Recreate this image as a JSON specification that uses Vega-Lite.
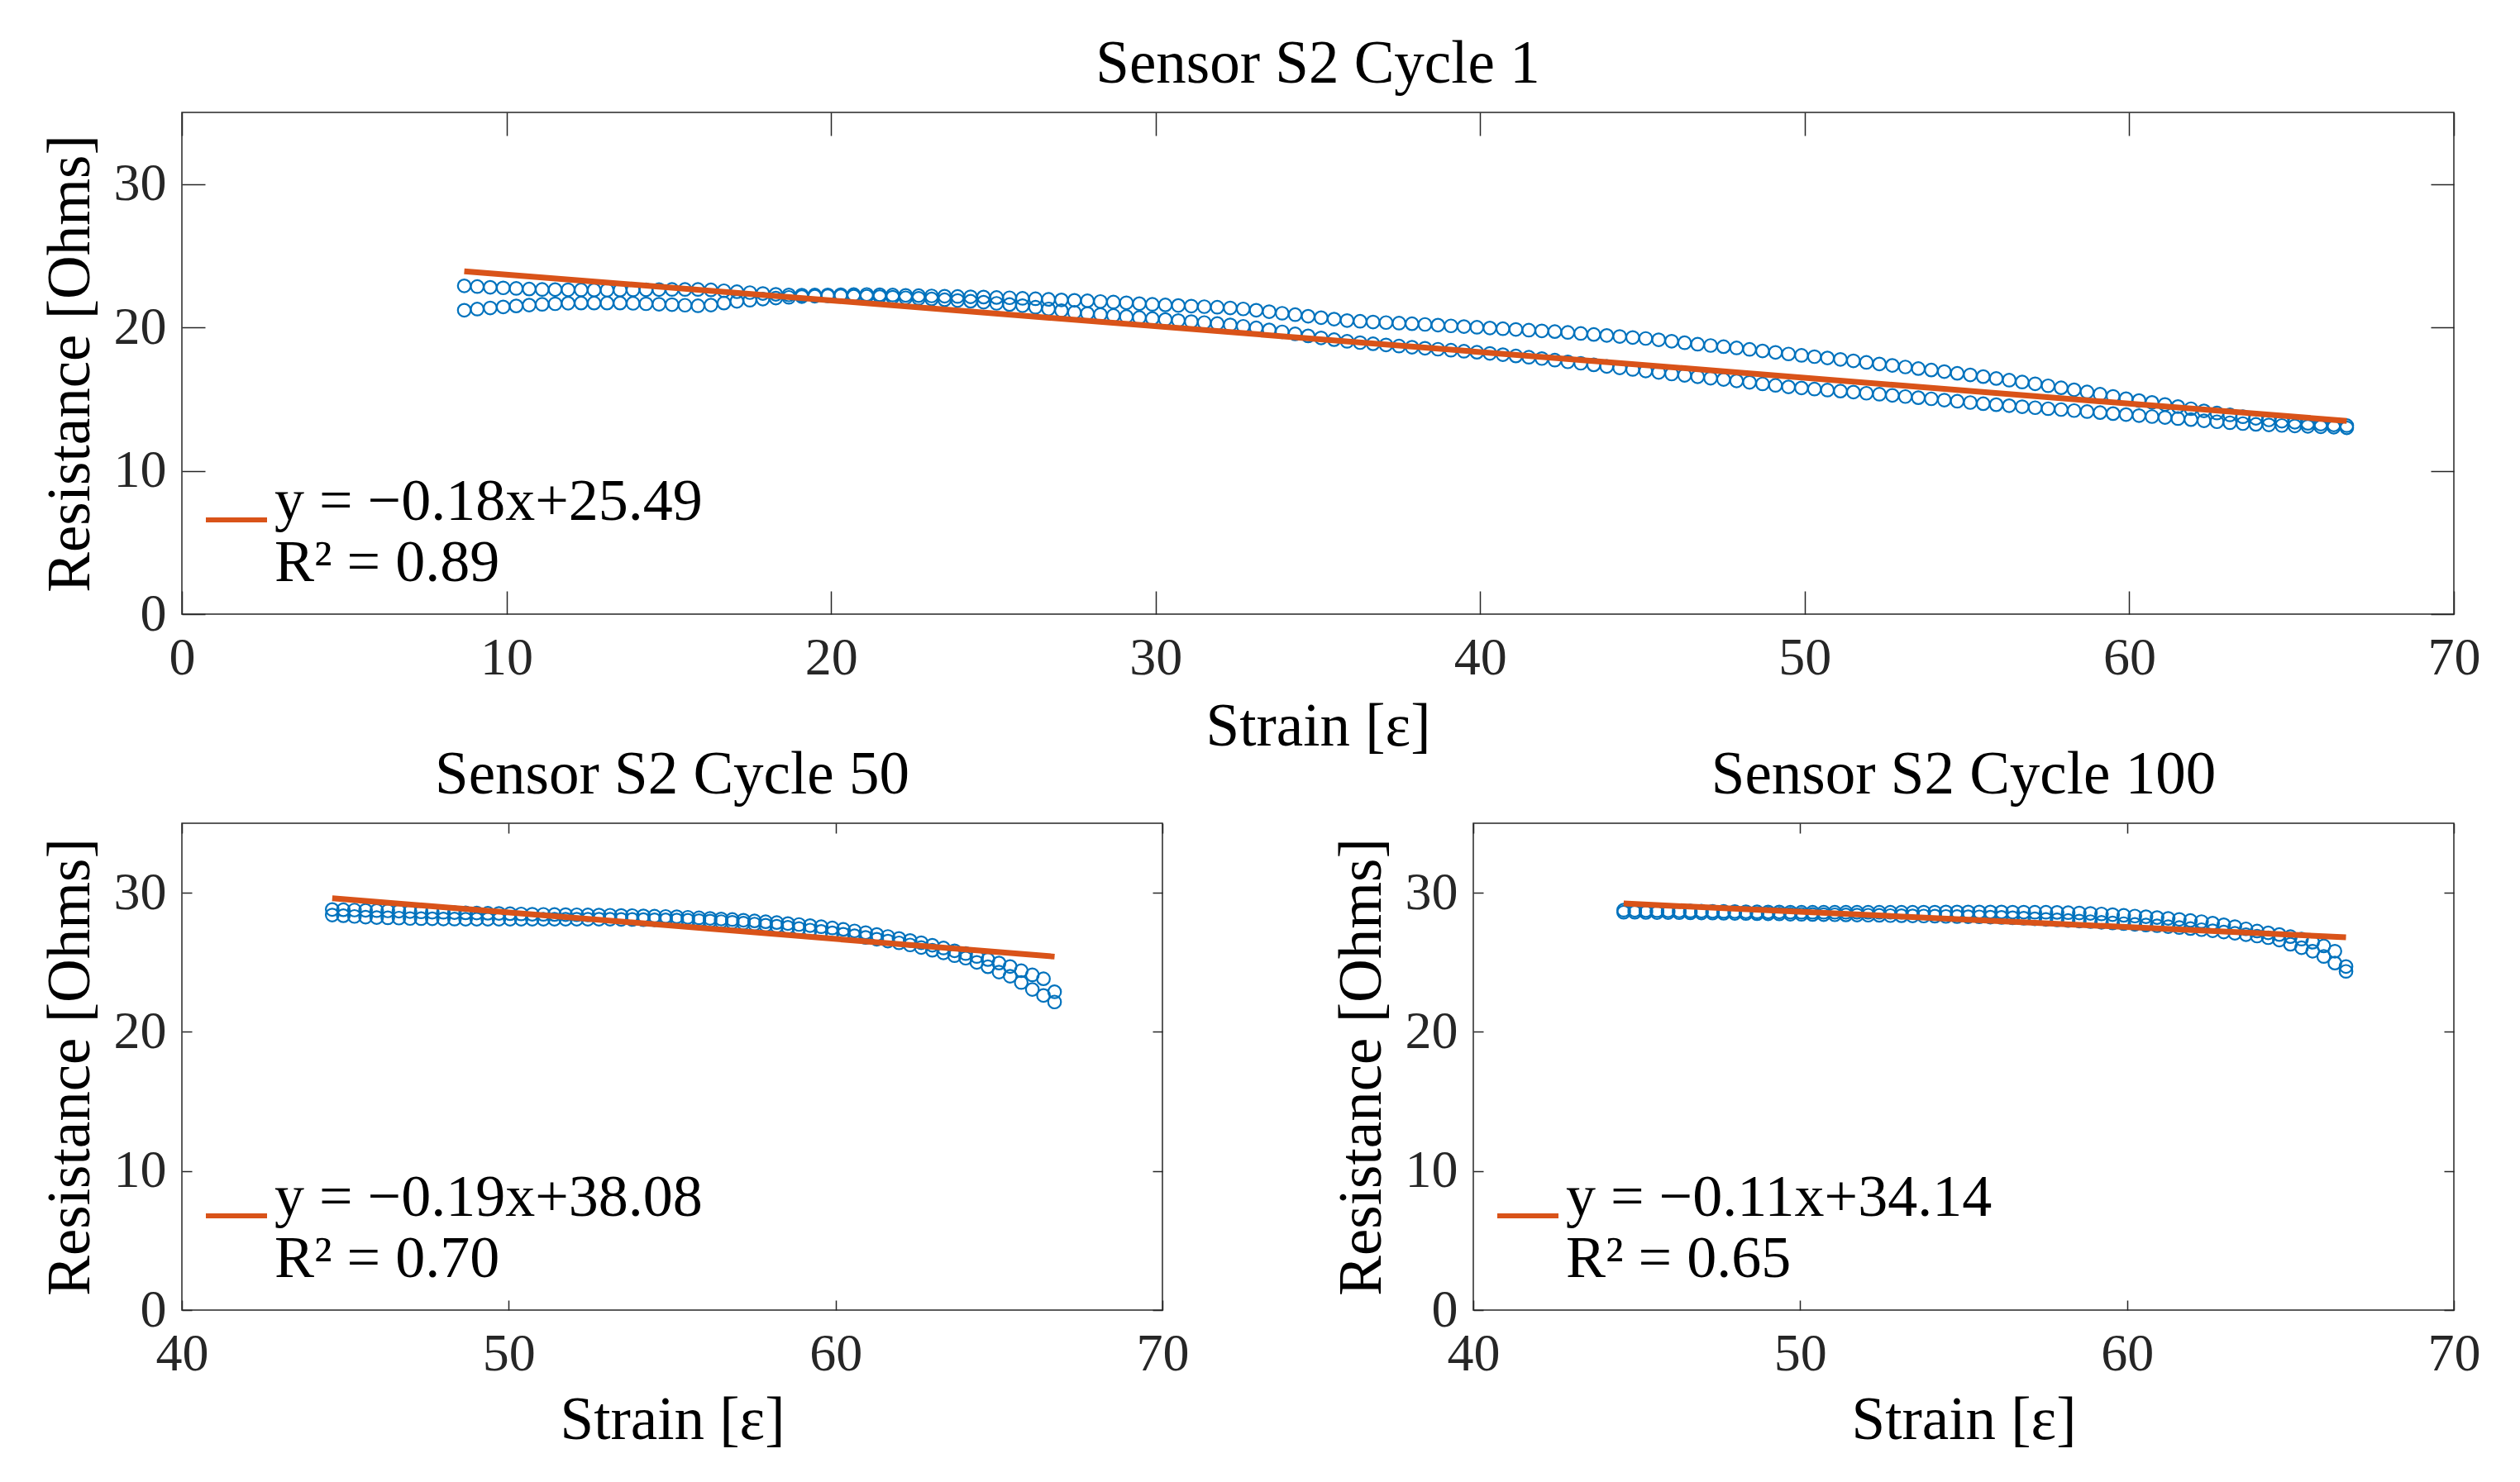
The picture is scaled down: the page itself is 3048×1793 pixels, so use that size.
{
"$schema": "https://vega.github.io/schema/vega-lite/v6.json",
"autosize": {"type": "none"},
"padding": {"left": 220, "top": 136, "right": 2828, "bottom": 1657},
"background": "white",
"config": {
 "font": "Liberation Serif",
 "view": {"stroke": "#262626", "strokeWidth": 1.5},
 "axis": {"grid": false, "domain": false, "tickColor": "#262626", "tickWidth": 1.5, "labelFont": "Liberation Serif", "labelFontSize": 64, "labelColor": "#262626", "titleFont": "Liberation Serif", "titleFontSize": 73, "titleFontWeight": "normal", "titleColor": "black", "labelFlush": false, "labelOverlap": false},
 "axisBottom": {"titleBaseline": "alphabetic", "titlePadding": 73},
 "axisLeft": {"titlePadding": 15},
 "title": {"font": "Liberation Serif", "fontSize": 73, "fontWeight": "normal", "color": "black", "frame": "group", "anchor": "middle", "baseline": "alphabetic", "offset": 20},
 "legend": {"orient": "bottom-left", "offset": 26, "title": null, "symbolType": "stroke", "symbolSize": 5476, "symbolStrokeWidth": 6, "labelFont": "Liberation Serif", "labelFontSize": 72, "labelColor": "black", "labelBaseline": "alphabetic", "labelLimit": 0, "labelOffset": 6, "padding": 0}
},
"datasets": {
 "c1": [
{"x":8.7,"y":22.9},{"x":9.1,"y":22.85},{"x":9.5,"y":22.8},{"x":9.9,"y":22.76},{"x":10.3,"y":22.72},{"x":10.7,"y":22.68},{"x":11.1,"y":22.65},{"x":11.5,"y":22.64},{"x":11.9,"y":22.63},{"x":12.3,"y":22.62},
{"x":12.7,"y":22.61},{"x":13.1,"y":22.6},{"x":13.5,"y":22.61},{"x":13.9,"y":22.62},{"x":14.3,"y":22.63},{"x":14.7,"y":22.64},{"x":15.1,"y":22.65},{"x":15.5,"y":22.65},{"x":15.9,"y":22.65},{"x":16.3,"y":22.62},
{"x":16.7,"y":22.56},{"x":17.1,"y":22.49},{"x":17.5,"y":22.43},{"x":17.9,"y":22.37},{"x":18.3,"y":22.31},{"x":18.7,"y":22.27},{"x":19.1,"y":22.25},{"x":19.5,"y":22.26},{"x":19.9,"y":22.27},{"x":20.3,"y":22.28},
{"x":20.7,"y":22.29},{"x":21.1,"y":22.3},{"x":21.5,"y":22.28},{"x":21.9,"y":22.26},{"x":22.3,"y":22.24},{"x":22.7,"y":22.22},{"x":23.1,"y":22.2},{"x":23.5,"y":22.18},{"x":23.9,"y":22.16},{"x":24.3,"y":22.14},
{"x":24.7,"y":22.12},{"x":25.1,"y":22.09},{"x":25.5,"y":22.07},{"x":25.9,"y":22.03},{"x":26.3,"y":22.0},{"x":26.7,"y":21.96},{"x":27.1,"y":21.92},{"x":27.5,"y":21.89},{"x":27.9,"y":21.86},{"x":28.3,"y":21.81},
{"x":28.7,"y":21.77},{"x":29.1,"y":21.72},{"x":29.5,"y":21.66},{"x":29.9,"y":21.61},{"x":30.3,"y":21.57},{"x":30.7,"y":21.53},{"x":31.1,"y":21.49},{"x":31.5,"y":21.45},{"x":31.9,"y":21.41},{"x":32.3,"y":21.36},
{"x":32.7,"y":21.29},{"x":33.1,"y":21.2},{"x":33.5,"y":21.1},{"x":33.9,"y":20.99},{"x":34.3,"y":20.89},{"x":34.7,"y":20.78},{"x":35.1,"y":20.68},{"x":35.5,"y":20.58},{"x":35.9,"y":20.48},{"x":36.3,"y":20.43},
{"x":36.7,"y":20.38},{"x":37.1,"y":20.34},{"x":37.5,"y":20.3},{"x":37.9,"y":20.26},{"x":38.3,"y":20.21},{"x":38.7,"y":20.16},{"x":39.1,"y":20.11},{"x":39.5,"y":20.06},{"x":39.9,"y":20.01},{"x":40.3,"y":19.96},
{"x":40.7,"y":19.91},{"x":41.1,"y":19.86},{"x":41.5,"y":19.81},{"x":41.9,"y":19.76},{"x":42.3,"y":19.71},{"x":42.7,"y":19.65},{"x":43.1,"y":19.58},{"x":43.5,"y":19.51},{"x":43.9,"y":19.44},{"x":44.3,"y":19.37},
{"x":44.7,"y":19.3},{"x":45.1,"y":19.23},{"x":45.5,"y":19.14},{"x":45.9,"y":19.04},{"x":46.3,"y":18.93},{"x":46.7,"y":18.83},{"x":47.1,"y":18.74},{"x":47.5,"y":18.66},{"x":47.9,"y":18.57},{"x":48.3,"y":18.47},
{"x":48.7,"y":18.36},{"x":49.1,"y":18.26},{"x":49.5,"y":18.15},{"x":49.9,"y":18.05},{"x":50.3,"y":17.96},{"x":50.7,"y":17.87},{"x":51.1,"y":17.77},{"x":51.5,"y":17.67},{"x":51.9,"y":17.56},{"x":52.3,"y":17.45},
{"x":52.7,"y":17.35},{"x":53.1,"y":17.24},{"x":53.5,"y":17.13},{"x":53.9,"y":17.03},{"x":54.3,"y":16.92},{"x":54.7,"y":16.8},{"x":55.1,"y":16.69},{"x":55.5,"y":16.57},{"x":55.9,"y":16.44},{"x":56.3,"y":16.32},
{"x":56.7,"y":16.19},{"x":57.1,"y":16.07},{"x":57.5,"y":15.93},{"x":57.9,"y":15.79},{"x":58.3,"y":15.65},{"x":58.7,"y":15.5},{"x":59.1,"y":15.34},{"x":59.5,"y":15.19},{"x":59.9,"y":15.03},{"x":60.3,"y":14.9},
{"x":60.7,"y":14.77},{"x":61.1,"y":14.63},{"x":61.5,"y":14.48},{"x":61.9,"y":14.33},{"x":62.3,"y":14.18},{"x":62.7,"y":14.03},{"x":63.1,"y":13.9},{"x":63.5,"y":13.77},{"x":63.9,"y":13.66},{"x":64.3,"y":13.55},
{"x":64.7,"y":13.46},{"x":65.1,"y":13.39},{"x":65.5,"y":13.31},{"x":65.9,"y":13.26},{"x":66.3,"y":13.2},{"x":66.7,"y":13.15},
{"x":8.7,"y":21.2},{"x":9.1,"y":21.28},{"x":9.5,"y":21.36},{"x":9.9,"y":21.43},{"x":10.3,"y":21.5},{"x":10.7,"y":21.56},{"x":11.1,"y":21.61},{"x":11.5,"y":21.65},{"x":11.9,"y":21.69},{"x":12.3,"y":21.7},
{"x":12.7,"y":21.7},{"x":13.1,"y":21.7},{"x":13.5,"y":21.7},{"x":13.9,"y":21.68},{"x":14.3,"y":21.65},{"x":14.7,"y":21.62},{"x":15.1,"y":21.59},{"x":15.5,"y":21.55},{"x":15.9,"y":21.51},{"x":16.3,"y":21.56},
{"x":16.7,"y":21.7},{"x":17.1,"y":21.82},{"x":17.5,"y":21.9},{"x":17.9,"y":21.98},{"x":18.3,"y":22.05},{"x":18.7,"y":22.1},{"x":19.1,"y":22.15},{"x":19.5,"y":22.18},{"x":19.9,"y":22.2},{"x":20.3,"y":22.2},
{"x":20.7,"y":22.18},{"x":21.1,"y":22.17},{"x":21.5,"y":22.15},{"x":21.9,"y":22.11},{"x":22.3,"y":22.07},{"x":22.7,"y":22.03},{"x":23.1,"y":21.99},{"x":23.5,"y":21.93},{"x":23.9,"y":21.88},{"x":24.3,"y":21.83},
{"x":24.7,"y":21.76},{"x":25.1,"y":21.68},{"x":25.5,"y":21.6},{"x":25.9,"y":21.52},{"x":26.3,"y":21.41},{"x":26.7,"y":21.29},{"x":27.1,"y":21.17},{"x":27.5,"y":21.05},{"x":27.9,"y":20.97},{"x":28.3,"y":20.9},
{"x":28.7,"y":20.83},{"x":29.1,"y":20.76},{"x":29.5,"y":20.69},{"x":29.9,"y":20.62},{"x":30.3,"y":20.55},{"x":30.7,"y":20.48},{"x":31.1,"y":20.41},{"x":31.5,"y":20.34},{"x":31.9,"y":20.27},{"x":32.3,"y":20.18},
{"x":32.7,"y":20.08},{"x":33.1,"y":19.97},{"x":33.5,"y":19.83},{"x":33.9,"y":19.69},{"x":34.3,"y":19.55},{"x":34.7,"y":19.41},{"x":35.1,"y":19.27},{"x":35.5,"y":19.15},{"x":35.9,"y":19.03},{"x":36.3,"y":18.94},
{"x":36.7,"y":18.86},{"x":37.1,"y":18.78},{"x":37.5,"y":18.7},{"x":37.9,"y":18.62},{"x":38.3,"y":18.55},{"x":38.7,"y":18.48},{"x":39.1,"y":18.41},{"x":39.5,"y":18.34},{"x":39.9,"y":18.27},{"x":40.3,"y":18.19},
{"x":40.7,"y":18.1},{"x":41.1,"y":18.01},{"x":41.5,"y":17.92},{"x":41.9,"y":17.83},{"x":42.3,"y":17.72},{"x":42.7,"y":17.6},{"x":43.1,"y":17.5},{"x":43.5,"y":17.39},{"x":43.9,"y":17.28},{"x":44.3,"y":17.18},
{"x":44.7,"y":17.07},{"x":45.1,"y":16.96},{"x":45.5,"y":16.86},{"x":45.9,"y":16.75},{"x":46.3,"y":16.66},{"x":46.7,"y":16.56},{"x":47.1,"y":16.46},{"x":47.5,"y":16.37},{"x":47.9,"y":16.27},{"x":48.3,"y":16.17},
{"x":48.7,"y":16.06},{"x":49.1,"y":15.96},{"x":49.5,"y":15.85},{"x":49.9,"y":15.78},{"x":50.3,"y":15.7},{"x":50.7,"y":15.63},{"x":51.1,"y":15.56},{"x":51.5,"y":15.49},{"x":51.9,"y":15.41},{"x":52.3,"y":15.34},
{"x":52.7,"y":15.26},{"x":53.1,"y":15.18},{"x":53.5,"y":15.1},{"x":53.9,"y":15.02},{"x":54.3,"y":14.93},{"x":54.7,"y":14.85},{"x":55.1,"y":14.76},{"x":55.5,"y":14.68},{"x":55.9,"y":14.61},{"x":56.3,"y":14.54},
{"x":56.7,"y":14.47},{"x":57.1,"y":14.4},{"x":57.5,"y":14.33},{"x":57.9,"y":14.27},{"x":58.3,"y":14.2},{"x":58.7,"y":14.13},{"x":59.1,"y":14.06},{"x":59.5,"y":13.99},{"x":59.9,"y":13.92},{"x":60.3,"y":13.85},
{"x":60.7,"y":13.78},{"x":61.1,"y":13.72},{"x":61.5,"y":13.64},{"x":61.9,"y":13.57},{"x":62.3,"y":13.49},{"x":62.7,"y":13.42},{"x":63.1,"y":13.35},{"x":63.5,"y":13.29},{"x":63.9,"y":13.24},{"x":64.3,"y":13.2},
{"x":64.7,"y":13.16},{"x":65.1,"y":13.13},{"x":65.5,"y":13.1},{"x":65.9,"y":13.07},{"x":66.3,"y":13.04},{"x":66.7,"y":13.0}
 ],
 "c50": [
{"x":44.6,"y":28.8},{"x":44.94,"y":28.78},{"x":45.28,"y":28.76},{"x":45.62,"y":28.74},{"x":45.96,"y":28.72},{"x":46.3,"y":28.7},{"x":46.64,"y":28.68},{"x":46.98,"y":28.65},{"x":47.32,"y":28.63},{"x":47.66,"y":28.61},
{"x":48.0,"y":28.6},{"x":48.34,"y":28.58},{"x":48.68,"y":28.56},{"x":49.02,"y":28.55},{"x":49.36,"y":28.53},{"x":49.7,"y":28.52},{"x":50.04,"y":28.5},{"x":50.38,"y":28.48},{"x":50.72,"y":28.46},{"x":51.06,"y":28.45},
{"x":51.4,"y":28.44},{"x":51.74,"y":28.43},{"x":52.08,"y":28.42},{"x":52.42,"y":28.41},{"x":52.76,"y":28.4},{"x":53.1,"y":28.39},{"x":53.44,"y":28.37},{"x":53.78,"y":28.36},{"x":54.12,"y":28.34},{"x":54.46,"y":28.32},
{"x":54.8,"y":28.3},{"x":55.14,"y":28.28},{"x":55.48,"y":28.24},{"x":55.82,"y":28.2},{"x":56.16,"y":28.16},{"x":56.5,"y":28.12},{"x":56.84,"y":28.08},{"x":57.18,"y":28.03},{"x":57.52,"y":27.98},{"x":57.86,"y":27.92},
{"x":58.2,"y":27.86},{"x":58.54,"y":27.79},{"x":58.88,"y":27.72},{"x":59.22,"y":27.64},{"x":59.56,"y":27.56},{"x":59.9,"y":27.47},{"x":60.24,"y":27.37},{"x":60.58,"y":27.26},{"x":60.92,"y":27.14},{"x":61.26,"y":27.0},
{"x":61.6,"y":26.86},{"x":61.94,"y":26.72},{"x":62.28,"y":26.57},{"x":62.62,"y":26.41},{"x":62.96,"y":26.23},{"x":63.3,"y":26.03},{"x":63.64,"y":25.83},{"x":63.98,"y":25.63},{"x":64.32,"y":25.42},{"x":64.66,"y":25.2},
{"x":65.0,"y":24.95},{"x":65.34,"y":24.7},{"x":65.68,"y":24.4},{"x":66.02,"y":24.1},{"x":66.36,"y":23.82},{"x":66.7,"y":22.88},
{"x":44.6,"y":28.4},{"x":44.94,"y":28.35},{"x":45.28,"y":28.3},{"x":45.62,"y":28.25},{"x":45.96,"y":28.22},{"x":46.3,"y":28.2},{"x":46.64,"y":28.18},{"x":46.98,"y":28.15},{"x":47.32,"y":28.14},{"x":47.66,"y":28.13},
{"x":48.0,"y":28.12},{"x":48.34,"y":28.11},{"x":48.68,"y":28.1},{"x":49.02,"y":28.1},{"x":49.36,"y":28.1},{"x":49.7,"y":28.1},{"x":50.04,"y":28.1},{"x":50.38,"y":28.1},{"x":50.72,"y":28.1},{"x":51.06,"y":28.1},
{"x":51.4,"y":28.1},{"x":51.74,"y":28.1},{"x":52.08,"y":28.1},{"x":52.42,"y":28.1},{"x":52.76,"y":28.1},{"x":53.1,"y":28.1},{"x":53.44,"y":28.09},{"x":53.78,"y":28.08},{"x":54.12,"y":28.07},{"x":54.46,"y":28.06},
{"x":54.8,"y":28.05},{"x":55.14,"y":28.04},{"x":55.48,"y":28.02},{"x":55.82,"y":28.0},{"x":56.16,"y":27.97},{"x":56.5,"y":27.93},{"x":56.84,"y":27.88},{"x":57.18,"y":27.82},{"x":57.52,"y":27.75},{"x":57.86,"y":27.67},
{"x":58.2,"y":27.6},{"x":58.54,"y":27.52},{"x":58.88,"y":27.43},{"x":59.22,"y":27.32},{"x":59.56,"y":27.22},{"x":59.9,"y":27.12},{"x":60.24,"y":27.02},{"x":60.58,"y":26.91},{"x":60.92,"y":26.79},{"x":61.26,"y":26.66},
{"x":61.6,"y":26.53},{"x":61.94,"y":26.4},{"x":62.28,"y":26.25},{"x":62.62,"y":26.07},{"x":62.96,"y":25.87},{"x":63.3,"y":25.68},{"x":63.64,"y":25.48},{"x":63.98,"y":25.3},{"x":64.32,"y":25.0},{"x":64.66,"y":24.68},
{"x":65.0,"y":24.3},{"x":65.34,"y":24.0},{"x":65.68,"y":23.55},{"x":66.02,"y":23.05},{"x":66.36,"y":22.62},{"x":66.7,"y":22.15}
 ],
 "c100": [
{"x":44.6,"y":28.75},{"x":44.94,"y":28.74},{"x":45.28,"y":28.73},{"x":45.62,"y":28.72},{"x":45.96,"y":28.71},{"x":46.3,"y":28.7},{"x":46.64,"y":28.69},{"x":46.98,"y":28.68},{"x":47.32,"y":28.67},{"x":47.66,"y":28.66},
{"x":48.0,"y":28.65},{"x":48.34,"y":28.64},{"x":48.68,"y":28.63},{"x":49.02,"y":28.62},{"x":49.36,"y":28.62},{"x":49.7,"y":28.61},{"x":50.04,"y":28.6},{"x":50.38,"y":28.6},{"x":50.72,"y":28.6},{"x":51.06,"y":28.6},
{"x":51.4,"y":28.6},{"x":51.74,"y":28.6},{"x":52.08,"y":28.6},{"x":52.42,"y":28.6},{"x":52.76,"y":28.6},{"x":53.1,"y":28.6},{"x":53.44,"y":28.6},{"x":53.78,"y":28.61},{"x":54.12,"y":28.61},{"x":54.46,"y":28.62},
{"x":54.8,"y":28.62},{"x":55.14,"y":28.62},{"x":55.48,"y":28.62},{"x":55.82,"y":28.62},{"x":56.16,"y":28.62},{"x":56.5,"y":28.61},{"x":56.84,"y":28.61},{"x":57.18,"y":28.6},{"x":57.52,"y":28.6},{"x":57.86,"y":28.59},
{"x":58.2,"y":28.57},{"x":58.54,"y":28.55},{"x":58.88,"y":28.52},{"x":59.22,"y":28.48},{"x":59.56,"y":28.43},{"x":59.9,"y":28.38},{"x":60.24,"y":28.33},{"x":60.58,"y":28.28},{"x":60.92,"y":28.22},{"x":61.26,"y":28.16},
{"x":61.6,"y":28.09},{"x":61.94,"y":28.01},{"x":62.28,"y":27.93},{"x":62.62,"y":27.82},{"x":62.96,"y":27.7},{"x":63.3,"y":27.57},{"x":63.64,"y":27.41},{"x":63.98,"y":27.25},{"x":64.32,"y":27.12},{"x":64.66,"y":27.0},
{"x":65.0,"y":26.85},{"x":65.34,"y":26.67},{"x":65.68,"y":26.45},{"x":66.02,"y":26.18},{"x":66.36,"y":25.8},{"x":66.7,"y":24.7},
{"x":44.6,"y":28.6},{"x":44.94,"y":28.6},{"x":45.28,"y":28.59},{"x":45.62,"y":28.58},{"x":45.96,"y":28.58},{"x":46.3,"y":28.57},{"x":46.64,"y":28.56},{"x":46.98,"y":28.55},{"x":47.32,"y":28.54},{"x":47.66,"y":28.53},
{"x":48.0,"y":28.52},{"x":48.34,"y":28.51},{"x":48.68,"y":28.5},{"x":49.02,"y":28.49},{"x":49.36,"y":28.48},{"x":49.7,"y":28.46},{"x":50.04,"y":28.45},{"x":50.38,"y":28.44},{"x":50.72,"y":28.43},{"x":51.06,"y":28.42},
{"x":51.4,"y":28.41},{"x":51.74,"y":28.4},{"x":52.08,"y":28.39},{"x":52.42,"y":28.38},{"x":52.76,"y":28.36},{"x":53.1,"y":28.35},{"x":53.44,"y":28.34},{"x":53.78,"y":28.33},{"x":54.12,"y":28.32},{"x":54.46,"y":28.3},
{"x":54.8,"y":28.29},{"x":55.14,"y":28.28},{"x":55.48,"y":28.27},{"x":55.82,"y":28.25},{"x":56.16,"y":28.23},{"x":56.5,"y":28.2},{"x":56.84,"y":28.17},{"x":57.18,"y":28.13},{"x":57.52,"y":28.09},{"x":57.86,"y":28.05},
{"x":58.2,"y":28.01},{"x":58.54,"y":27.97},{"x":58.88,"y":27.93},{"x":59.22,"y":27.88},{"x":59.56,"y":27.83},{"x":59.9,"y":27.78},{"x":60.24,"y":27.73},{"x":60.58,"y":27.68},{"x":60.92,"y":27.63},{"x":61.26,"y":27.57},
{"x":61.6,"y":27.5},{"x":61.94,"y":27.43},{"x":62.28,"y":27.35},{"x":62.62,"y":27.27},{"x":62.96,"y":27.18},{"x":63.3,"y":27.09},{"x":63.64,"y":26.99},{"x":63.98,"y":26.89},{"x":64.32,"y":26.77},{"x":64.66,"y":26.6},
{"x":65.0,"y":26.3},{"x":65.34,"y":26.05},{"x":65.68,"y":25.8},{"x":66.02,"y":25.42},{"x":66.36,"y":24.95},{"x":66.7,"y":24.35}
 ],
 "f1": [{"x":8.7,"y":23.92,"eq":"y = −0.18x+25.49|R² = 0.89"},{"x":66.7,"y":13.48,"eq":"y = −0.18x+25.49|R² = 0.89"}],
 "f50": [{"x":44.6,"y":29.61,"eq":"y = −0.19x+38.08|R² = 0.70"},{"x":66.7,"y":25.41,"eq":"y = −0.19x+38.08|R² = 0.70"}],
 "f100": [{"x":44.6,"y":29.23,"eq":"y = −0.11x+34.14|R² = 0.65"},{"x":66.7,"y":26.8,"eq":"y = −0.11x+34.14|R² = 0.65"}]
},
"spacing": 253,
"bounds": "flush",
"resolve": {"scale": {"color": "independent"}, "legend": {"color": "independent"}},
"vconcat": [
 {
  "width": 2748, "height": 607,
  "title": {"text": "Sensor S2 Cycle 1"},
  "layer": [
   {
    "data": {"name": "c1"},
    "mark": {"type": "point", "shape": "circle", "filled": false, "size": 240, "strokeWidth": 2.2, "color": "#0072BD", "opacity": 1},
    "encoding": {
     "x": {"field": "x", "type": "quantitative", "scale": {"domain": [0, 70], "nice": false, "zero": false}, "axis": {"orient": "bottom", "values": [0,10,20,30,40,50,60,70], "tickSize": -28, "labelPadding": 49, "title": "Strain [ε]"}},
     "y": {"field": "y", "type": "quantitative", "scale": {"domain": [0, 35], "nice": false}, "axis": {"orient": "left", "values": [0,10,20,30], "tickSize": -28, "labelPadding": 47, "title": "Resistance [Ohms]"}}
    }
   },
   {
    "data": {"name": "f1"},
    "mark": {"type": "line", "strokeWidth": 7},
    "encoding": {
     "x": {"field": "x", "type": "quantitative", "scale": {"domain": [0, 70], "nice": false, "zero": false}, "axis": {"orient": "top", "values": [0,10,20,30,40,50,60,70], "tickSize": -28, "labels": false, "title": null}},
     "y": {"field": "y", "type": "quantitative", "scale": {"domain": [0, 35], "nice": false}, "axis": {"orient": "right", "values": [0,10,20,30], "tickSize": -28, "labels": false, "title": null}},
     "color": {"field": "eq", "type": "nominal", "scale": {"range": ["#D95319"]}, "legend": {"labelExpr": "split(datum.label, '|')"}}
    }
   }
  ]
 },
 {
  "hconcat": [
   {
    "width": 1186, "height": 589,
    "title": {"text": "Sensor S2 Cycle 50"},
    "layer": [
     {
      "data": {"name": "c50"},
      "mark": {"type": "point", "shape": "circle", "filled": false, "size": 240, "strokeWidth": 2.2, "color": "#0072BD", "opacity": 1},
      "encoding": {
       "x": {"field": "x", "type": "quantitative", "scale": {"domain": [40, 70], "nice": false, "zero": false}, "axis": {"orient": "bottom", "values": [40,50,60,70], "tickSize": -12, "labelPadding": 33, "title": "Strain [ε]", "titlePadding": 70}},
       "y": {"field": "y", "type": "quantitative", "scale": {"domain": [0, 35], "nice": false}, "axis": {"orient": "left", "values": [0,10,20,30], "tickSize": -12, "labelPadding": 31, "title": "Resistance [Ohms]"}}
      }
     },
     {
      "data": {"name": "f50"},
      "mark": {"type": "line", "strokeWidth": 7},
      "encoding": {
       "x": {"field": "x", "type": "quantitative", "scale": {"domain": [40, 70], "nice": false, "zero": false}, "axis": {"orient": "top", "values": [40,50,60,70], "tickSize": -12, "labels": false, "title": null}},
       "y": {"field": "y", "type": "quantitative", "scale": {"domain": [0, 35], "nice": false}, "axis": {"orient": "right", "values": [0,10,20,30], "tickSize": -12, "labels": false, "title": null}},
       "color": {"field": "eq", "type": "nominal", "scale": {"range": ["#D95319"]}, "legend": {"labelExpr": "split(datum.label, '|')"}}
      }
     }
    ]
   },
   {
    "width": 1186, "height": 589,
    "title": {"text": "Sensor S2 Cycle 100"},
    "layer": [
     {
      "data": {"name": "c100"},
      "mark": {"type": "point", "shape": "circle", "filled": false, "size": 240, "strokeWidth": 2.2, "color": "#0072BD", "opacity": 1},
      "encoding": {
       "x": {"field": "x", "type": "quantitative", "scale": {"domain": [40, 70], "nice": false, "zero": false}, "axis": {"orient": "bottom", "values": [40,50,60,70], "tickSize": -12, "labelPadding": 33, "title": "Strain [ε]", "titlePadding": 70}},
       "y": {"field": "y", "type": "quantitative", "scale": {"domain": [0, 35], "nice": false}, "axis": {"orient": "left", "values": [0,10,20,30], "tickSize": -12, "labelPadding": 31, "title": "Resistance [Ohms]"}}
      }
     },
     {
      "data": {"name": "f100"},
      "mark": {"type": "line", "strokeWidth": 7},
      "encoding": {
       "x": {"field": "x", "type": "quantitative", "scale": {"domain": [40, 70], "nice": false, "zero": false}, "axis": {"orient": "top", "values": [40,50,60,70], "tickSize": -12, "labels": false, "title": null}},
       "y": {"field": "y", "type": "quantitative", "scale": {"domain": [0, 35], "nice": false}, "axis": {"orient": "right", "values": [0,10,20,30], "tickSize": -12, "labels": false, "title": null}},
       "color": {"field": "eq", "type": "nominal", "scale": {"range": ["#D95319"]}, "legend": {"labelExpr": "split(datum.label, '|')"}}
      }
     }
    ]
   }
  ],
  "spacing": 376,
  "bounds": "flush",
  "resolve": {"scale": {"color": "independent"}, "legend": {"color": "independent"}}
 }
]
}
